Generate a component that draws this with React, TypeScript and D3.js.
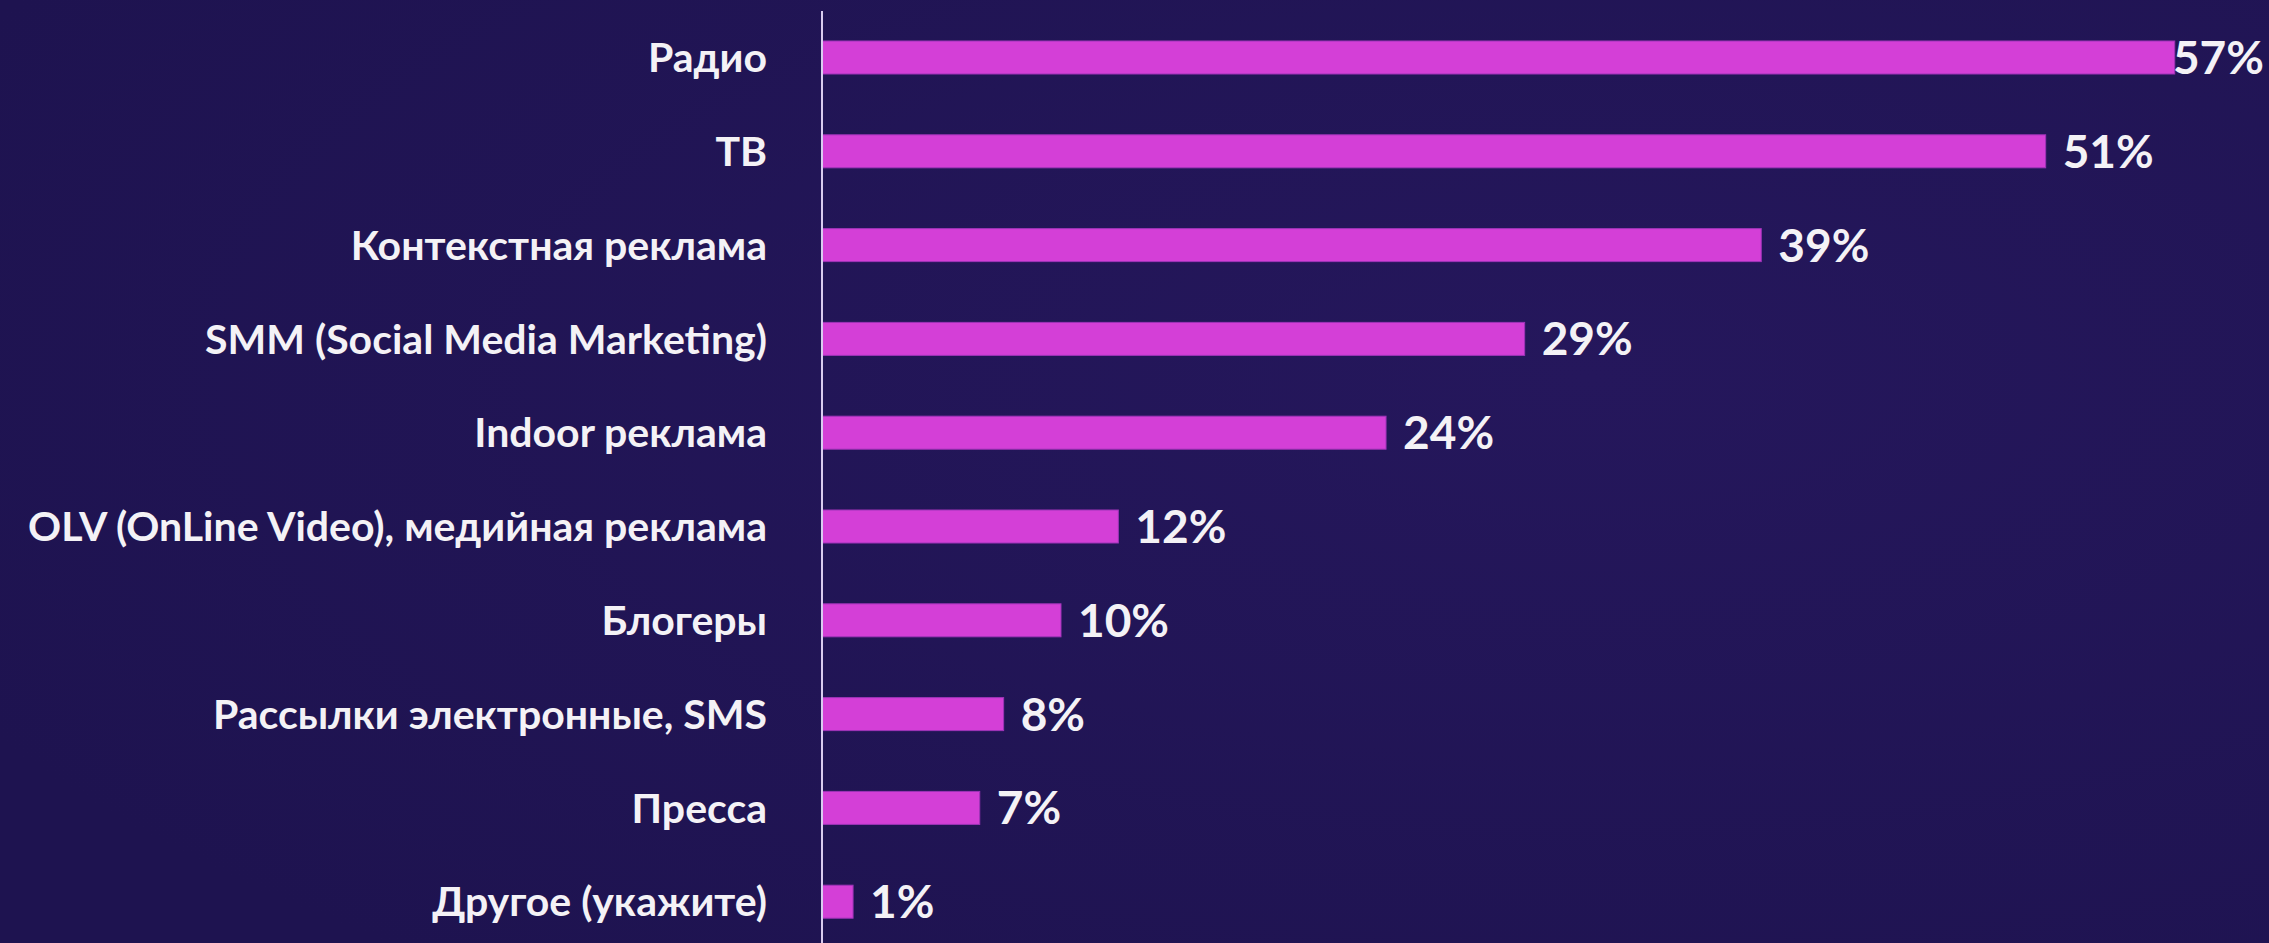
import React, { useEffect, useRef } from "react";
import * as d3 from "d3";

const categories = [
  "Радио",
  "ТВ",
  "Контекстная реклама",
  "SMM (Social Media Marketing)",
  "Indoor реклама",
  "OLV (OnLine Video), медийная реклама",
  "Блогеры",
  "Рассылки электронные, SMS",
  "Пресса",
  "Другое (укажите)",
];
// shares in % (labels show rounded values)
const shares = [56.6, 51.2, 39.3, 29.4, 23.6, 12.4, 10.0, 7.6, 6.6, 1.3];

export default function App() {
  const ref = useRef<SVGSVGElement>(null);

  useEffect(() => {
    document.body.style.margin = "0";
    const width = 2269;
    const height = 943;
    const axisX = 822;

    const svg = d3.select(ref.current);
    svg.selectAll("*").remove();

    const defs = svg.append("defs");
    const grad = defs
      .append("radialGradient")
      .attr("id", "bg")
      .attr("cx", "70%")
      .attr("cy", "40%")
      .attr("r", "80%");
    grad.append("stop").attr("offset", "0%").attr("stop-color", "#25175c");
    grad.append("stop").attr("offset", "100%").attr("stop-color", "#1e1350");

    svg
      .append("rect")
      .attr("width", width)
      .attr("height", height)
      .attr("fill", "url(#bg)");

    const x = d3.scaleLinear().domain([0, 60]).range([axisX, axisX + 60 * 23.9]);
    const y = d3
      .scaleBand()
      .domain(categories)
      .range([10.6, 948.6])
      .paddingInner(0.648)
      .paddingOuter(0.324);

    const rows = svg
      .append("g")
      .selectAll("g")
      .data(categories)
      .enter()
      .append("g");

    rows
      .append("rect")
      .attr("x", x(0))
      .attr("y", (d) => y(d)!)
      .attr("width", (d, i) => x(shares[i]) - x(0))
      .attr("height", y.bandwidth())
      .attr("fill", "#d43fd7")
      .attr("stroke", "#9e34b8")
      .attr("stroke-width", 1);

    rows
      .append("text")
      .attr("x", 767)
      .attr("y", (d) => y(d)! + y.bandwidth() / 2)
      .attr("dy", "0.36em")
      .attr("text-anchor", "end")
      .attr("fill", "#f4f2f6")
      .attr("font-family", "Lato, sans-serif")
      .attr("font-weight", 700)
      .attr("font-size", 41)
      .text((d) => d);

    rows
      .append("text")
      .attr("y", (d) => y(d)! + y.bandwidth() / 2)
      .attr("dy", "0.36em")
      .attr("fill", "#f4f2f6")
      .attr("font-family", "Lato, sans-serif")
      .attr("font-weight", 700)
      .attr("font-size", 46)
      .text((d, i) => Math.round(shares[i]) + "%")
      .each(function (d, i) {
        const t = this as SVGTextElement;
        const w = t.getComputedTextLength();
        const px = Math.min(x(shares[i]) + 17, width - 5 - w);
        d3.select(t).attr("x", px);
      });

    svg
      .append("line")
      .attr("x1", axisX)
      .attr("x2", axisX)
      .attr("y1", 11)
      .attr("y2", height)
      .attr("stroke", "#d9ccef")
      .attr("stroke-width", 2);
  }, []);

  return <svg ref={ref} width={2269} height={943} style={{ display: "block" }} />;
}
